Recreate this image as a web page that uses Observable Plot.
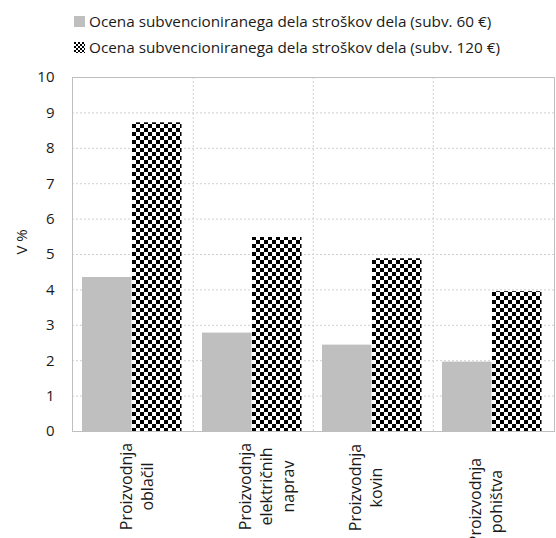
<!DOCTYPE html>
<html>
<head>
<meta charset="utf-8">
<script src="https://cdn.jsdelivr.net/npm/d3@7"></script>
<script src="https://cdn.jsdelivr.net/npm/@observablehq/plot@0.6"></script>
<style>
  html, body { margin: 0; padding: 0; background: #fff; }
  #wrap { position: relative; width: 556px; height: 538px; font-family: "Open Sans", sans-serif; color: #1a1a1a; }
  #legend { position: absolute; left: 74px; top: 8px; font-size: 15.3px; line-height: 26px; }
  .item { display: flex; align-items: center; white-space: nowrap; }
  .sw { width: 11px; height: 11px; margin-right: 4px; display: inline-block; }
  #chart { position: absolute; left: 0; top: 0; }
</style>
</head>
<body>
<div id="wrap">
  <div id="chart"></div>
  <div id="legend"></div>
</div>
<script>
const categories = ["Proizvodnja\noblačil", "Proizvodnja\nelektričnih\nnaprav", "Proizvodnja\nkovin", "Proizvodnja\npohištva"];
const seriesNames = [
  "Ocena subvencioniranega dela stroškov dela (subv. 60 €)",
  "Ocena subvencioniranega dela stroškov dela (subv. 120 €)"
];
const values60 = [4.35, 2.78, 2.44, 1.96];
const values120 = [8.72, 5.48, 4.88, 3.95];
const yTicks = [0, 1, 2, 3, 4, 5, 6, 7, 8, 9, 10];
const yLabel = "V %";

const data = categories.flatMap((c, i) => [
  {cat: c, series: seriesNames[0], value: values60[i]},
  {cat: c, series: seriesNames[1], value: values120[i]}
]);

const W = 556, H = 538, mL = 72, mR = 2, mT = 77, mB = 107;
const bw = (W - mL - mR) / categories.length;
const gridStyle = {stroke: "#d0d0d0", strokeDasharray: "2,2"};
const labelDx = [2, 12, -9, -9];
const labelDy = [55, 55, 56, 70];

const chart = Plot.plot({
  width: W, height: H,
  marginLeft: mL, marginRight: mR, marginTop: mT, marginBottom: mB,
  style: {fontFamily: "Open Sans, sans-serif", fontSize: "15px", color: "#1a1a1a", background: "#fff"},
  x: {domain: categories, padding: 0, axis: null},
  y: {domain: [0, 10], ticks: yTicks, tickSize: 0, tickPadding: 18, label: null},
  marks: [
    Plot.ruleY(yTicks.filter(t => t > 0 && t < 10), gridStyle),
    Plot.ruleX(categories.slice(1), {x: d => d, dx: -bw / 2, ...gridStyle}),
    Plot.barY(data.filter(d => d.series === seriesNames[0]), {x: "cat", y: "value", fill: "#bfbfbf", insetLeft: 9, insetRight: bw - 59}),
    Plot.barY(data.filter(d => d.series === seriesNames[1]), {x: "cat", y: "value", fill: "url(#chk)", insetLeft: 59, insetRight: bw - 109}),
    Plot.frame({stroke: "#bfbfbf"}),
    Plot.text([yLabel], {frameAnchor: "left", dx: -50, rotate: -90, fontSize: 15, fill: "#1a1a1a"}),
    ...categories.map((c, i) => Plot.text([c], {
      x: d => d, frameAnchor: "bottom", rotate: -90, textAnchor: "middle", lineAnchor: "middle",
      lineHeight: 1.35, dx: labelDx[i], dy: labelDy[i], fontSize: 16, fill: "#1a1a1a"
    }))
  ]
});

const defs = `<defs><pattern id="chk" width="8" height="8" patternUnits="userSpaceOnUse">
  <rect width="8" height="8" fill="#fff"/><rect width="4" height="4" fill="#000"/><rect x="4" y="4" width="4" height="4" fill="#000"/>
</pattern><pattern id="chk2" width="4" height="4" patternUnits="userSpaceOnUse">
  <rect width="4" height="4" fill="#fff"/><rect width="2" height="2" fill="#000"/><rect x="2" y="2" width="2" height="2" fill="#000"/>
</pattern></defs>`;
chart.insertAdjacentHTML("afterbegin", defs);
document.getElementById("chart").appendChild(chart);

const legend = d3.select("#legend");
const fills = ["#bfbfbf", "url(#chk2)"];
seriesNames.forEach((s, i) => {
  const it = legend.append("div").attr("class", "item");
  it.append("svg").attr("class", "sw").attr("width", 11).attr("height", 11)
    .append("rect").attr("width", 11).attr("height", 11).attr("fill", fills[i]);
  it.append("span").text(s);
});
</script>
</body>
</html>
